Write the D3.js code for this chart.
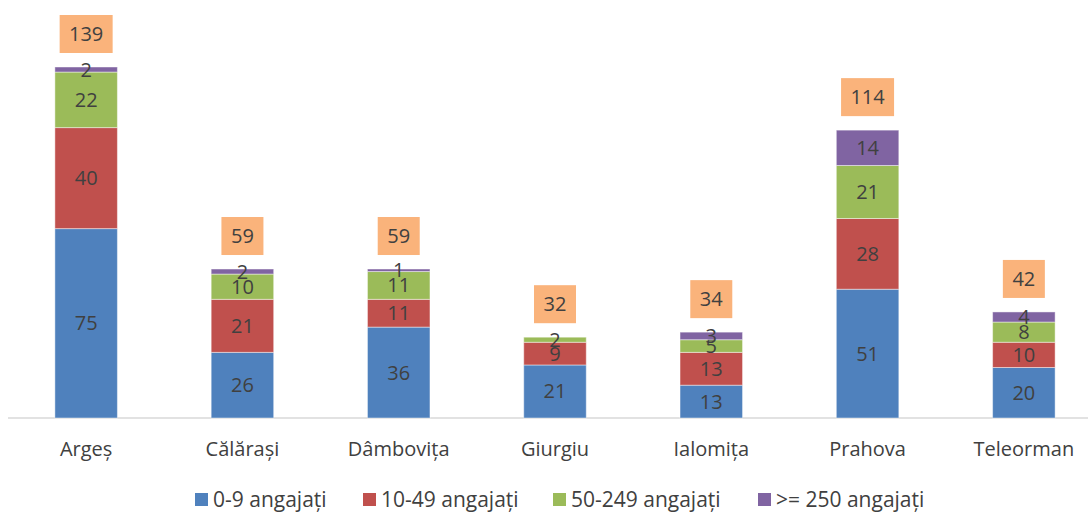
<!DOCTYPE html>
<html>
<head>
<meta charset="utf-8">
<script src="https://cdn.jsdelivr.net/npm/d3@7"></script>
<style>
  body { margin: 0; background: #fff; }
  svg { display: block; font-family: "Open Sans", Lato, sans-serif; }
</style>
</head>
<body>
<svg id="chart" width="1088" height="513"></svg>
<script>
const counties = ["Argeș", "Călărași", "Dâmbovița", "Giurgiu", "Ialomița", "Prahova", "Teleorman"];
const seriesNames = ["0-9 angajați", "10-49 angajați", "50-249 angajați", ">= 250 angajați"];
const micro = [75, 26, 36, 21, 13, 51, 20];
const small = [40, 21, 11, 9, 13, 28, 10];
const medium = [22, 10, 11, 2, 5, 21, 8];
const large = [2, 2, 1, 0, 3, 14, 4];
const colors = ["#4F81BD", "#C0504D", "#9BBB59", "#8064A2"];

const svg = d3.select("#chart");
const textColor = "#404040";
const fontSize = 20;

const rows = counties.map((c, i) => ({
    county: c,
    s0: micro[i], s1: small[i], s2: medium[i], s3: large[i],
    total: micro[i] + small[i] + medium[i] + large[i]
}));
const keys = ["s0", "s1", "s2", "s3"];
const stacked = d3.stack().keys(keys)(rows);

const x = d3.scaleBand()
    .domain(counties)
    .range([8, 1102])
    .paddingInner(0.6)
    .paddingOuter(0.3);

const y = d3.scaleLinear()
    .domain([0, 139])
    .range([418, 67]);

// axis baseline
svg.append("line")
    .attr("x1", 8).attr("x2", 1088)
    .attr("y1", y(0)).attr("y2", y(0))
    .attr("stroke", "#d9d9d9")
    .attr("stroke-width", 1.5);

const layers = svg.selectAll("g.layer")
    .data(stacked)
    .join("g")
    .attr("class", "layer")
    .attr("fill", (d, i) => colors[i]);

layers.selectAll("rect")
    .data(d => d.filter(p => p[1] - p[0] > 0))
    .join("rect")
    .attr("x", d => x(d.data.county))
    .attr("width", x.bandwidth())
    .attr("y", d => y(d[1]))
    .attr("height", d => y(d[0]) - y(d[1]))
    .attr("stroke", "rgba(255,255,255,0.45)")
    .attr("stroke-width", 1);

// segment labels
layers.selectAll("text")
    .data(d => d.filter(p => p[1] - p[0] > 0))
    .join("text")
    .attr("x", d => x(d.data.county) + x.bandwidth() / 2)
    .attr("y", d => (y(d[0]) + y(d[1])) / 2)
    .attr("dy", "0.35em")
    .attr("text-anchor", "middle")
    .attr("fill", textColor)
    .attr("font-size", fontSize)
    .text(d => d[1] - d[0]);

// total labels in orange boxes
const boxW = d => String(d.total).length * 11 + 20;
const totals = svg.selectAll("g.total")
    .data(rows)
    .join("g")
    .attr("class", "total")
    .attr("transform", d => `translate(${x(d.county) + x.bandwidth() / 2},${y(d.total) - 33})`);

totals.append("rect")
    .attr("x", d => -boxW(d) / 2)
    .attr("width", boxW)
    .attr("y", -19)
    .attr("height", 38)
    .attr("fill", "#FAB37B");

totals.append("text")
    .attr("text-anchor", "middle")
    .attr("dy", "0.35em")
    .attr("fill", textColor)
    .attr("font-size", fontSize)
    .text(d => d.total);

// category labels
svg.selectAll("text.cat")
    .data(counties)
    .join("text")
    .attr("class", "cat")
    .attr("x", d => x(d) + x.bandwidth() / 2)
    .attr("y", 449)
    .attr("dy", "0.35em")
    .attr("text-anchor", "middle")
    .attr("fill", textColor)
    .attr("font-size", fontSize)
    .text(d => d);

// legend
const legendX = [195, 363, 553, 758];
const legend = svg.selectAll("g.legend")
    .data(seriesNames)
    .join("g")
    .attr("class", "legend")
    .attr("transform", (d, i) => `translate(${legendX[i]},499)`);

legend.append("rect")
    .attr("x", 0).attr("y", -6)
    .attr("width", 13).attr("height", 13)
    .attr("fill", (d, i) => colors[i]);

legend.append("text")
    .attr("x", 18)
    .attr("dy", "0.38em")
    .attr("fill", textColor)
    .attr("font-size", 21)
    .text(d => d);
</script>
</body>
</html>
